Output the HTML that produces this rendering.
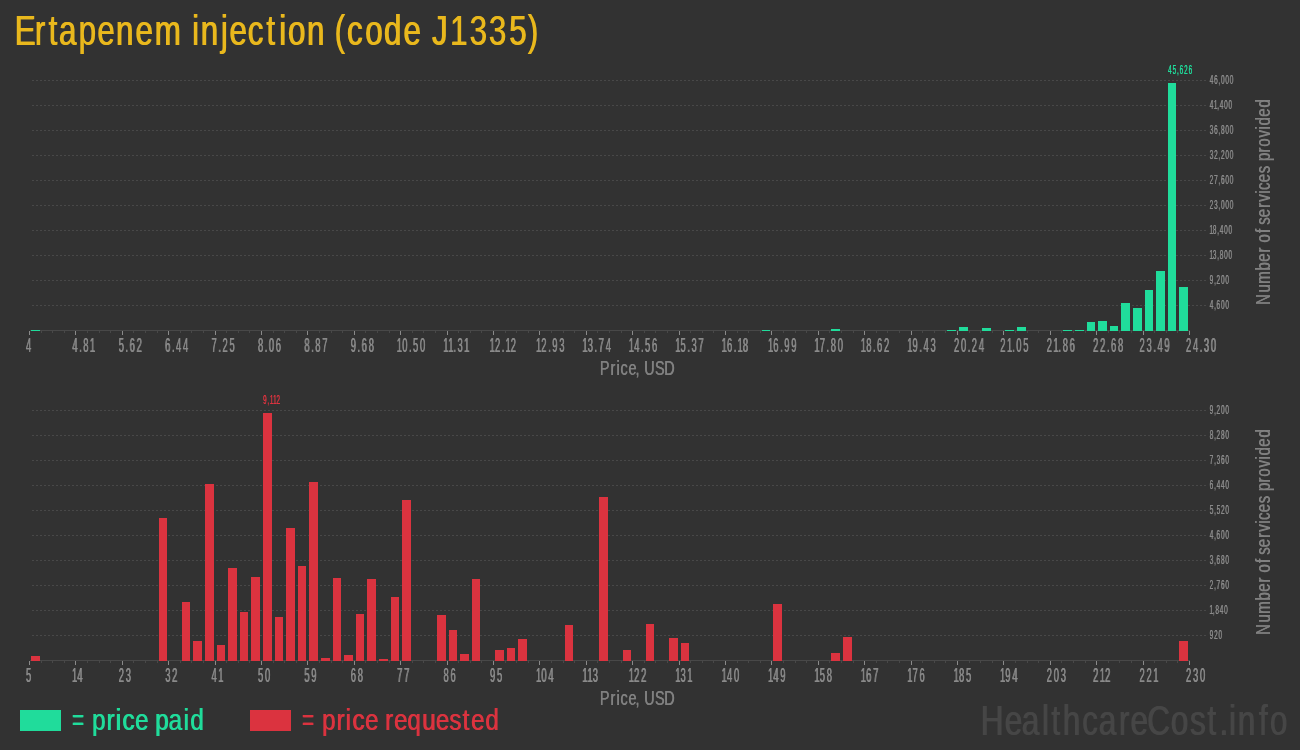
<!DOCTYPE html>
<html lang="en"><head><meta charset="utf-8">
<title>Ertapenem injection (code J1335)</title>
<style>
html,body{margin:0;padding:0;background:#323232;overflow:hidden}
body{width:1300px;height:750px}
svg{display:block}
text{font-family:"Liberation Sans", sans-serif;white-space:pre}
.xl{font-size:20px;text-shadow:0.96px 0 0 currentColor}
.yl{font-size:13.7px;text-shadow:0.64px 0 0 currentColor}
.vl{font-size:13.4px;text-shadow:0.64px 0 0 currentColor}
.title{font-size:41.8px;text-shadow:0.8px 0 0 currentColor}
.ax{font-size:19.9px;text-shadow:0.4px 0 0 currentColor}
.rot{font-size:19.8px;text-shadow:0.4px 0 0 currentColor}
.lg{font-size:30.4px;text-shadow:0.7px 0 0 currentColor}
.wm{font-size:41.6px;text-shadow:0.8px 0 0 currentColor}
</style></head><body>
<svg width="1300" height="750" viewBox="0 0 1300 750">
<rect width="1300" height="750" fill="#323232"/>
<text class="title" fill="#e9b81d" color="#e9b81d" y="45" transform="scale(0.7500,1)" style="text-shadow:1.07px 0 0 currentColor"><tspan x="19.18 45.93 64.19 78.17 104.21 129.24 154.04 180.04 205.83">Ertapenem</tspan> <tspan x="255.58 267.18 293.92 305.44 329.78 354.59 371.71 383.51 408.64">injection</tspan> <tspan x="445.6 462.18 486.38 511.48 537.38">(code</tspan> <tspan x="575.48 599.62 625.57 651.23 678.31 703.25">J1335)</tspan></text>
<g class="chart" transform="translate(0,0)">
<g class="grid" stroke="#484848" stroke-width="1" stroke-dasharray="2 2" shape-rendering="crispEdges">
<line x1="32" y1="80.5" x2="1206" y2="80.5"/>
<line x1="32" y1="105.5" x2="1206" y2="105.5"/>
<line x1="32" y1="130.5" x2="1206" y2="130.5"/>
<line x1="32" y1="155.5" x2="1206" y2="155.5"/>
<line x1="32" y1="180.5" x2="1206" y2="180.5"/>
<line x1="32" y1="205.5" x2="1206" y2="205.5"/>
<line x1="32" y1="230.5" x2="1206" y2="230.5"/>
<line x1="32" y1="255.5" x2="1206" y2="255.5"/>
<line x1="32" y1="280.5" x2="1206" y2="280.5"/>
<line x1="32" y1="305.5" x2="1206" y2="305.5"/>
</g>
<g class="axis" shape-rendering="crispEdges">
<rect x="30" y="330" width="1160" height="1" fill="#484848"/>
<rect x="29" y="331" width="1" height="4" fill="#8a8a8a"/>
<rect x="41" y="331" width="1" height="2" fill="#484848"/>
<rect x="52" y="331" width="1" height="2" fill="#484848"/>
<rect x="64" y="331" width="1" height="2" fill="#484848"/>
<rect x="75" y="331" width="1" height="4" fill="#8a8a8a"/>
<rect x="87" y="331" width="1" height="2" fill="#484848"/>
<rect x="99" y="331" width="1" height="2" fill="#484848"/>
<rect x="110" y="331" width="1" height="2" fill="#484848"/>
<rect x="122" y="331" width="1" height="4" fill="#8a8a8a"/>
<rect x="133" y="331" width="1" height="2" fill="#484848"/>
<rect x="145" y="331" width="1" height="2" fill="#484848"/>
<rect x="157" y="331" width="1" height="2" fill="#484848"/>
<rect x="168" y="331" width="1" height="4" fill="#8a8a8a"/>
<rect x="180" y="331" width="1" height="2" fill="#484848"/>
<rect x="191" y="331" width="1" height="2" fill="#484848"/>
<rect x="203" y="331" width="1" height="2" fill="#484848"/>
<rect x="215" y="331" width="1" height="4" fill="#8a8a8a"/>
<rect x="226" y="331" width="1" height="2" fill="#484848"/>
<rect x="238" y="331" width="1" height="2" fill="#484848"/>
<rect x="249" y="331" width="1" height="2" fill="#484848"/>
<rect x="261" y="331" width="1" height="4" fill="#8a8a8a"/>
<rect x="273" y="331" width="1" height="2" fill="#484848"/>
<rect x="284" y="331" width="1" height="2" fill="#484848"/>
<rect x="296" y="331" width="1" height="2" fill="#484848"/>
<rect x="307" y="331" width="1" height="4" fill="#8a8a8a"/>
<rect x="319" y="331" width="1" height="2" fill="#484848"/>
<rect x="331" y="331" width="1" height="2" fill="#484848"/>
<rect x="342" y="331" width="1" height="2" fill="#484848"/>
<rect x="354" y="331" width="1" height="4" fill="#8a8a8a"/>
<rect x="365" y="331" width="1" height="2" fill="#484848"/>
<rect x="377" y="331" width="1" height="2" fill="#484848"/>
<rect x="389" y="331" width="1" height="2" fill="#484848"/>
<rect x="400" y="331" width="1" height="4" fill="#8a8a8a"/>
<rect x="412" y="331" width="1" height="2" fill="#484848"/>
<rect x="423" y="331" width="1" height="2" fill="#484848"/>
<rect x="435" y="331" width="1" height="2" fill="#484848"/>
<rect x="447" y="331" width="1" height="4" fill="#8a8a8a"/>
<rect x="458" y="331" width="1" height="2" fill="#484848"/>
<rect x="470" y="331" width="1" height="2" fill="#484848"/>
<rect x="481" y="331" width="1" height="2" fill="#484848"/>
<rect x="493" y="331" width="1" height="4" fill="#8a8a8a"/>
<rect x="505" y="331" width="1" height="2" fill="#484848"/>
<rect x="516" y="331" width="1" height="2" fill="#484848"/>
<rect x="528" y="331" width="1" height="2" fill="#484848"/>
<rect x="539" y="331" width="1" height="4" fill="#8a8a8a"/>
<rect x="551" y="331" width="1" height="2" fill="#484848"/>
<rect x="563" y="331" width="1" height="2" fill="#484848"/>
<rect x="574" y="331" width="1" height="2" fill="#484848"/>
<rect x="586" y="331" width="1" height="4" fill="#8a8a8a"/>
<rect x="597" y="331" width="1" height="2" fill="#484848"/>
<rect x="609" y="331" width="1" height="2" fill="#484848"/>
<rect x="621" y="331" width="1" height="2" fill="#484848"/>
<rect x="632" y="331" width="1" height="4" fill="#8a8a8a"/>
<rect x="644" y="331" width="1" height="2" fill="#484848"/>
<rect x="655" y="331" width="1" height="2" fill="#484848"/>
<rect x="667" y="331" width="1" height="2" fill="#484848"/>
<rect x="679" y="331" width="1" height="4" fill="#8a8a8a"/>
<rect x="690" y="331" width="1" height="2" fill="#484848"/>
<rect x="702" y="331" width="1" height="2" fill="#484848"/>
<rect x="713" y="331" width="1" height="2" fill="#484848"/>
<rect x="725" y="331" width="1" height="4" fill="#8a8a8a"/>
<rect x="737" y="331" width="1" height="2" fill="#484848"/>
<rect x="748" y="331" width="1" height="2" fill="#484848"/>
<rect x="760" y="331" width="1" height="2" fill="#484848"/>
<rect x="771" y="331" width="1" height="4" fill="#8a8a8a"/>
<rect x="783" y="331" width="1" height="2" fill="#484848"/>
<rect x="795" y="331" width="1" height="2" fill="#484848"/>
<rect x="806" y="331" width="1" height="2" fill="#484848"/>
<rect x="818" y="331" width="1" height="4" fill="#8a8a8a"/>
<rect x="829" y="331" width="1" height="2" fill="#484848"/>
<rect x="841" y="331" width="1" height="2" fill="#484848"/>
<rect x="853" y="331" width="1" height="2" fill="#484848"/>
<rect x="864" y="331" width="1" height="4" fill="#8a8a8a"/>
<rect x="876" y="331" width="1" height="2" fill="#484848"/>
<rect x="887" y="331" width="1" height="2" fill="#484848"/>
<rect x="899" y="331" width="1" height="2" fill="#484848"/>
<rect x="911" y="331" width="1" height="4" fill="#8a8a8a"/>
<rect x="922" y="331" width="1" height="2" fill="#484848"/>
<rect x="934" y="331" width="1" height="2" fill="#484848"/>
<rect x="945" y="331" width="1" height="2" fill="#484848"/>
<rect x="957" y="331" width="1" height="4" fill="#8a8a8a"/>
<rect x="969" y="331" width="1" height="2" fill="#484848"/>
<rect x="980" y="331" width="1" height="2" fill="#484848"/>
<rect x="992" y="331" width="1" height="2" fill="#484848"/>
<rect x="1003" y="331" width="1" height="4" fill="#8a8a8a"/>
<rect x="1015" y="331" width="1" height="2" fill="#484848"/>
<rect x="1027" y="331" width="1" height="2" fill="#484848"/>
<rect x="1038" y="331" width="1" height="2" fill="#484848"/>
<rect x="1050" y="331" width="1" height="4" fill="#8a8a8a"/>
<rect x="1061" y="331" width="1" height="2" fill="#484848"/>
<rect x="1073" y="331" width="1" height="2" fill="#484848"/>
<rect x="1085" y="331" width="1" height="2" fill="#484848"/>
<rect x="1096" y="331" width="1" height="4" fill="#8a8a8a"/>
<rect x="1108" y="331" width="1" height="2" fill="#484848"/>
<rect x="1119" y="331" width="1" height="2" fill="#484848"/>
<rect x="1131" y="331" width="1" height="2" fill="#484848"/>
<rect x="1143" y="331" width="1" height="4" fill="#8a8a8a"/>
<rect x="1154" y="331" width="1" height="2" fill="#484848"/>
<rect x="1166" y="331" width="1" height="2" fill="#484848"/>
<rect x="1177" y="331" width="1" height="2" fill="#484848"/>
<rect x="1189" y="331" width="1" height="4" fill="#8a8a8a"/>
</g>
<g class="bars" fill="#20dc9b" shape-rendering="crispEdges">
<rect x="31" y="330" width="9" height="1"/>
<rect x="762" y="330" width="8" height="1"/>
<rect x="831" y="329" width="9" height="2"/>
<rect x="947" y="330" width="9" height="1"/>
<rect x="959" y="327" width="9" height="4"/>
<rect x="982" y="328" width="9" height="3"/>
<rect x="1005" y="330" width="9" height="1"/>
<rect x="1017" y="327" width="9" height="4"/>
<rect x="1063" y="330" width="9" height="1"/>
<rect x="1075" y="330" width="9" height="1"/>
<rect x="1087" y="322" width="8" height="9"/>
<rect x="1098" y="321" width="9" height="10"/>
<rect x="1110" y="326" width="8" height="5"/>
<rect x="1121" y="303" width="9" height="28"/>
<rect x="1133" y="308" width="9" height="23"/>
<rect x="1145" y="290" width="8" height="41"/>
<rect x="1156" y="271" width="9" height="60"/>
<rect x="1168" y="83" width="8" height="248"/>
<rect x="1179" y="287" width="9" height="44"/>
</g>
<g class="xlabels" fill="#8a8a8a" color="#8a8a8a">
<text class="xl" x="1.26" transform="translate(25.1,352) scale(0.47,1)">4</text>
<text class="xl" x="1.26 15.71 24.45 38.54" transform="translate(71.5,352) scale(0.47,1)">4.81</text>
<text class="xl" x="1.26 15.71 24.32 39.22" transform="translate(117.9,352) scale(0.47,1)">5.62</text>
<text class="xl" x="1.13 15.71 24.45 39.34" transform="translate(164.3,352) scale(0.47,1)">6.44</text>
<text class="xl" x="1.13 15.71 24.32 39.34" transform="translate(210.7,352) scale(0.47,1)">7.25</text>
<text class="xl" x="1.26 15.71 24.45 39.22" transform="translate(257.1,352) scale(0.47,1)">8.06</text>
<text class="xl" x="1.26 15.71 24.45 39.22" transform="translate(303.5,352) scale(0.47,1)">8.87</text>
<text class="xl" x="1.13 15.71 24.32 39.34" transform="translate(349.9,352) scale(0.47,1)">9.68</text>
<text class="xl" x="0.45 11.89 26.35 35.09 49.98" transform="translate(396.3,352) scale(0.47,1)">10.50</text>
<text class="xl" x="0.45 11.09 22.09 30.83 44.92" transform="translate(442.7,352) scale(0.47,1)">11.31</text>
<text class="xl" x="0.45 11.77 26.35 34.28 45.6" transform="translate(489.1,352) scale(0.47,1)">12.12</text>
<text class="xl" x="0.45 11.77 26.35 34.96 49.98" transform="translate(535.5,352) scale(0.47,1)">12.93</text>
<text class="xl" x="0.45 11.89 26.35 34.96 49.98" transform="translate(581.9,352) scale(0.47,1)">13.74</text>
<text class="xl" x="0.45 11.89 26.35 35.09 49.85" transform="translate(628.3,352) scale(0.47,1)">14.56</text>
<text class="xl" x="0.45 11.89 26.35 35.09 49.85" transform="translate(674.7,352) scale(0.47,1)">15.37</text>
<text class="xl" x="0.45 11.77 26.35 34.28 45.72" transform="translate(721.1,352) scale(0.47,1)">16.18</text>
<text class="xl" x="0.45 11.77 26.35 34.96 49.85" transform="translate(767.5,352) scale(0.47,1)">16.99</text>
<text class="xl" x="0.45 11.77 26.35 35.09 49.98" transform="translate(813.9,352) scale(0.47,1)">17.80</text>
<text class="xl" x="0.45 11.89 26.35 34.96 49.85" transform="translate(860.3,352) scale(0.47,1)">18.62</text>
<text class="xl" x="0.45 11.77 26.35 35.09 49.98" transform="translate(906.7,352) scale(0.47,1)">19.43</text>
<text class="xl" x="1.13 16.15 30.6 39.22 54.23" transform="translate(953.1,352) scale(0.47,1)">20.24</text>
<text class="xl" x="1.13 15.35 26.35 35.09 49.98" transform="translate(999.5,352) scale(0.47,1)">21.05</text>
<text class="xl" x="1.13 15.35 26.35 35.09 49.85" transform="translate(1045.9,352) scale(0.47,1)">21.86</text>
<text class="xl" x="1.13 16.02 30.6 39.22 54.23" transform="translate(1092.3,352) scale(0.47,1)">22.68</text>
<text class="xl" x="1.13 16.15 30.6 39.34 54.11" transform="translate(1138.7,352) scale(0.47,1)">23.49</text>
<text class="xl" x="1.13 16.15 30.6 39.34 54.23" transform="translate(1185.1,352) scale(0.47,1)">24.30</text>
</g>
<g class="ylabels" fill="#8a8a8a" color="#8a8a8a">
<text class="yl" x="0.49 9.75 19.12 24.48 33.86 43.25" transform="translate(1209.3,84.4) scale(0.47,1)">46,000</text>
<text class="yl" x="0.49 9.35 16.44 21.8 31.18 40.57" transform="translate(1209.3,109.4) scale(0.47,1)">41,400</text>
<text class="yl" x="0.49 9.75 19.12 24.48 33.86 43.25" transform="translate(1209.3,134.4) scale(0.47,1)">36,800</text>
<text class="yl" x="0.49 9.75 19.12 24.36 33.86 43.25" transform="translate(1209.3,159.4) scale(0.47,1)">32,200</text>
<text class="yl" x="0.36 9.75 19.12 24.36 33.86 43.25" transform="translate(1209.3,184.4) scale(0.47,1)">27,600</text>
<text class="yl" x="0.36 9.87 19.12 24.48 33.86 43.25" transform="translate(1209.3,209.4) scale(0.47,1)">23,000</text>
<text class="yl" x="-0.03 7.19 16.44 21.8 31.18 40.57" transform="translate(1209.3,234.4) scale(0.47,1)">18,400</text>
<text class="yl" x="-0.03 7.19 16.44 21.8 31.18 40.57" transform="translate(1209.3,259.4) scale(0.47,1)">13,800</text>
<text class="yl" x="0.36 9.74 14.97 24.48 33.86" transform="translate(1209.3,284.4) scale(0.47,1)">9,200</text>
<text class="yl" x="0.49 9.74 14.97 24.48 33.86" transform="translate(1209.3,309.4) scale(0.47,1)">4,600</text>
</g>
<text class="vl" fill="#20dc9b" color="#20dc9b" x="0.72 10.2 19.63 25.16 34.77 44.37" transform="translate(1167.6,74.4) scale(0.47,1)">45,626</text>
<text class="ax" fill="#808080" color="#808080" y="375" transform="scale(0.7233,1)" style="text-shadow:0.55px 0 0 currentColor"><tspan x="829.07 843.67 851.93 857.71 868.74 878.33">Price,</tspan> <tspan x="890.27 905.29 918.03">USD</tspan></text>
<text class="rot" fill="#808080" color="#808080" y="0" transform="translate(1270.1,304.3) rotate(-90) scale(0.7540,1)" style="text-shadow:0.53px 0 0 currentColor"><tspan x="-1.09 15.32 26.89 44.45 56.03 68.33">Number</tspan> <tspan x="81.56 94.4">of</tspan> <tspan x="105.26 115.18 127.81 135.77 146.47 151.36 161.53 173.43">services</tspan> <tspan x="189.86 200.95 208.81 220.84 231.61 236.98 248.33 260.78">provided</tspan></text>
</g>
<g class="chart" transform="translate(0,330)">
<g class="grid" stroke="#484848" stroke-width="1" stroke-dasharray="2 2" shape-rendering="crispEdges">
<line x1="32" y1="80.5" x2="1206" y2="80.5"/>
<line x1="32" y1="105.5" x2="1206" y2="105.5"/>
<line x1="32" y1="130.5" x2="1206" y2="130.5"/>
<line x1="32" y1="155.5" x2="1206" y2="155.5"/>
<line x1="32" y1="180.5" x2="1206" y2="180.5"/>
<line x1="32" y1="205.5" x2="1206" y2="205.5"/>
<line x1="32" y1="230.5" x2="1206" y2="230.5"/>
<line x1="32" y1="255.5" x2="1206" y2="255.5"/>
<line x1="32" y1="280.5" x2="1206" y2="280.5"/>
<line x1="32" y1="305.5" x2="1206" y2="305.5"/>
</g>
<g class="axis" shape-rendering="crispEdges">
<rect x="30" y="330" width="1160" height="1" fill="#484848"/>
<rect x="29" y="331" width="1" height="4" fill="#8a8a8a"/>
<rect x="41" y="331" width="1" height="2" fill="#484848"/>
<rect x="52" y="331" width="1" height="2" fill="#484848"/>
<rect x="64" y="331" width="1" height="2" fill="#484848"/>
<rect x="75" y="331" width="1" height="4" fill="#8a8a8a"/>
<rect x="87" y="331" width="1" height="2" fill="#484848"/>
<rect x="99" y="331" width="1" height="2" fill="#484848"/>
<rect x="110" y="331" width="1" height="2" fill="#484848"/>
<rect x="122" y="331" width="1" height="4" fill="#8a8a8a"/>
<rect x="133" y="331" width="1" height="2" fill="#484848"/>
<rect x="145" y="331" width="1" height="2" fill="#484848"/>
<rect x="157" y="331" width="1" height="2" fill="#484848"/>
<rect x="168" y="331" width="1" height="4" fill="#8a8a8a"/>
<rect x="180" y="331" width="1" height="2" fill="#484848"/>
<rect x="191" y="331" width="1" height="2" fill="#484848"/>
<rect x="203" y="331" width="1" height="2" fill="#484848"/>
<rect x="215" y="331" width="1" height="4" fill="#8a8a8a"/>
<rect x="226" y="331" width="1" height="2" fill="#484848"/>
<rect x="238" y="331" width="1" height="2" fill="#484848"/>
<rect x="249" y="331" width="1" height="2" fill="#484848"/>
<rect x="261" y="331" width="1" height="4" fill="#8a8a8a"/>
<rect x="273" y="331" width="1" height="2" fill="#484848"/>
<rect x="284" y="331" width="1" height="2" fill="#484848"/>
<rect x="296" y="331" width="1" height="2" fill="#484848"/>
<rect x="307" y="331" width="1" height="4" fill="#8a8a8a"/>
<rect x="319" y="331" width="1" height="2" fill="#484848"/>
<rect x="331" y="331" width="1" height="2" fill="#484848"/>
<rect x="342" y="331" width="1" height="2" fill="#484848"/>
<rect x="354" y="331" width="1" height="4" fill="#8a8a8a"/>
<rect x="365" y="331" width="1" height="2" fill="#484848"/>
<rect x="377" y="331" width="1" height="2" fill="#484848"/>
<rect x="389" y="331" width="1" height="2" fill="#484848"/>
<rect x="400" y="331" width="1" height="4" fill="#8a8a8a"/>
<rect x="412" y="331" width="1" height="2" fill="#484848"/>
<rect x="423" y="331" width="1" height="2" fill="#484848"/>
<rect x="435" y="331" width="1" height="2" fill="#484848"/>
<rect x="447" y="331" width="1" height="4" fill="#8a8a8a"/>
<rect x="458" y="331" width="1" height="2" fill="#484848"/>
<rect x="470" y="331" width="1" height="2" fill="#484848"/>
<rect x="481" y="331" width="1" height="2" fill="#484848"/>
<rect x="493" y="331" width="1" height="4" fill="#8a8a8a"/>
<rect x="505" y="331" width="1" height="2" fill="#484848"/>
<rect x="516" y="331" width="1" height="2" fill="#484848"/>
<rect x="528" y="331" width="1" height="2" fill="#484848"/>
<rect x="539" y="331" width="1" height="4" fill="#8a8a8a"/>
<rect x="551" y="331" width="1" height="2" fill="#484848"/>
<rect x="563" y="331" width="1" height="2" fill="#484848"/>
<rect x="574" y="331" width="1" height="2" fill="#484848"/>
<rect x="586" y="331" width="1" height="4" fill="#8a8a8a"/>
<rect x="597" y="331" width="1" height="2" fill="#484848"/>
<rect x="609" y="331" width="1" height="2" fill="#484848"/>
<rect x="621" y="331" width="1" height="2" fill="#484848"/>
<rect x="632" y="331" width="1" height="4" fill="#8a8a8a"/>
<rect x="644" y="331" width="1" height="2" fill="#484848"/>
<rect x="655" y="331" width="1" height="2" fill="#484848"/>
<rect x="667" y="331" width="1" height="2" fill="#484848"/>
<rect x="679" y="331" width="1" height="4" fill="#8a8a8a"/>
<rect x="690" y="331" width="1" height="2" fill="#484848"/>
<rect x="702" y="331" width="1" height="2" fill="#484848"/>
<rect x="713" y="331" width="1" height="2" fill="#484848"/>
<rect x="725" y="331" width="1" height="4" fill="#8a8a8a"/>
<rect x="737" y="331" width="1" height="2" fill="#484848"/>
<rect x="748" y="331" width="1" height="2" fill="#484848"/>
<rect x="760" y="331" width="1" height="2" fill="#484848"/>
<rect x="771" y="331" width="1" height="4" fill="#8a8a8a"/>
<rect x="783" y="331" width="1" height="2" fill="#484848"/>
<rect x="795" y="331" width="1" height="2" fill="#484848"/>
<rect x="806" y="331" width="1" height="2" fill="#484848"/>
<rect x="818" y="331" width="1" height="4" fill="#8a8a8a"/>
<rect x="829" y="331" width="1" height="2" fill="#484848"/>
<rect x="841" y="331" width="1" height="2" fill="#484848"/>
<rect x="853" y="331" width="1" height="2" fill="#484848"/>
<rect x="864" y="331" width="1" height="4" fill="#8a8a8a"/>
<rect x="876" y="331" width="1" height="2" fill="#484848"/>
<rect x="887" y="331" width="1" height="2" fill="#484848"/>
<rect x="899" y="331" width="1" height="2" fill="#484848"/>
<rect x="911" y="331" width="1" height="4" fill="#8a8a8a"/>
<rect x="922" y="331" width="1" height="2" fill="#484848"/>
<rect x="934" y="331" width="1" height="2" fill="#484848"/>
<rect x="945" y="331" width="1" height="2" fill="#484848"/>
<rect x="957" y="331" width="1" height="4" fill="#8a8a8a"/>
<rect x="969" y="331" width="1" height="2" fill="#484848"/>
<rect x="980" y="331" width="1" height="2" fill="#484848"/>
<rect x="992" y="331" width="1" height="2" fill="#484848"/>
<rect x="1003" y="331" width="1" height="4" fill="#8a8a8a"/>
<rect x="1015" y="331" width="1" height="2" fill="#484848"/>
<rect x="1027" y="331" width="1" height="2" fill="#484848"/>
<rect x="1038" y="331" width="1" height="2" fill="#484848"/>
<rect x="1050" y="331" width="1" height="4" fill="#8a8a8a"/>
<rect x="1061" y="331" width="1" height="2" fill="#484848"/>
<rect x="1073" y="331" width="1" height="2" fill="#484848"/>
<rect x="1085" y="331" width="1" height="2" fill="#484848"/>
<rect x="1096" y="331" width="1" height="4" fill="#8a8a8a"/>
<rect x="1108" y="331" width="1" height="2" fill="#484848"/>
<rect x="1119" y="331" width="1" height="2" fill="#484848"/>
<rect x="1131" y="331" width="1" height="2" fill="#484848"/>
<rect x="1143" y="331" width="1" height="4" fill="#8a8a8a"/>
<rect x="1154" y="331" width="1" height="2" fill="#484848"/>
<rect x="1166" y="331" width="1" height="2" fill="#484848"/>
<rect x="1177" y="331" width="1" height="2" fill="#484848"/>
<rect x="1189" y="331" width="1" height="4" fill="#8a8a8a"/>
</g>
<g class="bars" fill="#db333f" shape-rendering="crispEdges">
<rect x="31" y="326" width="9" height="5"/>
<rect x="159" y="188" width="8" height="143"/>
<rect x="182" y="272" width="8" height="59"/>
<rect x="193" y="311" width="9" height="20"/>
<rect x="205" y="154" width="9" height="177"/>
<rect x="217" y="315" width="8" height="16"/>
<rect x="228" y="238" width="9" height="93"/>
<rect x="240" y="282" width="8" height="49"/>
<rect x="251" y="247" width="9" height="84"/>
<rect x="263" y="83" width="9" height="248"/>
<rect x="275" y="287" width="8" height="44"/>
<rect x="286" y="198" width="9" height="133"/>
<rect x="298" y="236" width="8" height="95"/>
<rect x="309" y="152" width="9" height="179"/>
<rect x="321" y="328" width="9" height="3"/>
<rect x="333" y="248" width="8" height="83"/>
<rect x="344" y="325" width="9" height="6"/>
<rect x="356" y="284" width="8" height="47"/>
<rect x="367" y="249" width="9" height="82"/>
<rect x="379" y="329" width="9" height="2"/>
<rect x="391" y="267" width="8" height="64"/>
<rect x="402" y="170" width="9" height="161"/>
<rect x="437" y="285" width="9" height="46"/>
<rect x="449" y="300" width="8" height="31"/>
<rect x="460" y="324" width="9" height="7"/>
<rect x="472" y="249" width="8" height="82"/>
<rect x="495" y="320" width="9" height="11"/>
<rect x="507" y="318" width="8" height="13"/>
<rect x="518" y="309" width="9" height="22"/>
<rect x="565" y="295" width="8" height="36"/>
<rect x="599" y="167" width="9" height="164"/>
<rect x="623" y="320" width="8" height="11"/>
<rect x="646" y="294" width="8" height="37"/>
<rect x="669" y="308" width="9" height="23"/>
<rect x="681" y="313" width="8" height="18"/>
<rect x="773" y="274" width="9" height="57"/>
<rect x="831" y="323" width="9" height="8"/>
<rect x="843" y="307" width="9" height="24"/>
<rect x="1179" y="311" width="9" height="20"/>
</g>
<g class="xlabels" fill="#8a8a8a" color="#8a8a8a">
<text class="xl" x="1.26" transform="translate(25.1,352) scale(0.47,1)">5</text>
<text class="xl" x="0.45 11.89" transform="translate(71.5,352) scale(0.47,1)">14</text>
<text class="xl" x="1.13 16.15" transform="translate(117.9,352) scale(0.47,1)">23</text>
<text class="xl" x="1.26 16.02" transform="translate(164.3,352) scale(0.47,1)">32</text>
<text class="xl" x="1.26 15.35" transform="translate(210.7,352) scale(0.47,1)">41</text>
<text class="xl" x="1.26 16.15" transform="translate(257.1,352) scale(0.47,1)">50</text>
<text class="xl" x="1.26 16.02" transform="translate(303.5,352) scale(0.47,1)">59</text>
<text class="xl" x="1.13 16.15" transform="translate(349.9,352) scale(0.47,1)">68</text>
<text class="xl" x="1.13 16.02" transform="translate(396.3,352) scale(0.47,1)">77</text>
<text class="xl" x="1.26 16.02" transform="translate(442.7,352) scale(0.47,1)">86</text>
<text class="xl" x="1.13 16.15" transform="translate(489.1,352) scale(0.47,1)">95</text>
<text class="xl" x="0.45 11.89 26.79" transform="translate(535.5,352) scale(0.47,1)">104</text>
<text class="xl" x="0.45 11.09 22.53" transform="translate(581.9,352) scale(0.47,1)">113</text>
<text class="xl" x="0.45 11.77 26.66" transform="translate(628.3,352) scale(0.47,1)">122</text>
<text class="xl" x="0.45 11.89 25.99" transform="translate(674.7,352) scale(0.47,1)">131</text>
<text class="xl" x="0.45 11.89 26.79" transform="translate(721.1,352) scale(0.47,1)">140</text>
<text class="xl" x="0.45 11.89 26.66" transform="translate(767.5,352) scale(0.47,1)">149</text>
<text class="xl" x="0.45 11.89 26.79" transform="translate(813.9,352) scale(0.47,1)">158</text>
<text class="xl" x="0.45 11.77 26.66" transform="translate(860.3,352) scale(0.47,1)">167</text>
<text class="xl" x="0.45 11.77 26.66" transform="translate(906.7,352) scale(0.47,1)">176</text>
<text class="xl" x="0.45 11.89 26.79" transform="translate(953.1,352) scale(0.47,1)">185</text>
<text class="xl" x="0.45 11.77 26.79" transform="translate(999.5,352) scale(0.47,1)">194</text>
<text class="xl" x="1.13 16.15 31.04" transform="translate(1045.9,352) scale(0.47,1)">203</text>
<text class="xl" x="1.13 15.35 26.66" transform="translate(1092.3,352) scale(0.47,1)">212</text>
<text class="xl" x="1.13 16.02 30.24" transform="translate(1138.7,352) scale(0.47,1)">221</text>
<text class="xl" x="1.13 16.15 31.04" transform="translate(1185.1,352) scale(0.47,1)">230</text>
</g>
<g class="ylabels" fill="#8a8a8a" color="#8a8a8a">
<text class="yl" x="0.36 9.74 14.97 24.48 33.86" transform="translate(1209.3,84.4) scale(0.47,1)">9,200</text>
<text class="yl" x="0.49 9.74 14.97 24.48 33.86" transform="translate(1209.3,109.4) scale(0.47,1)">8,280</text>
<text class="yl" x="0.36 9.74 15.1 24.36 33.86" transform="translate(1209.3,134.4) scale(0.47,1)">7,360</text>
<text class="yl" x="0.36 9.74 15.1 24.48 33.86" transform="translate(1209.3,159.4) scale(0.47,1)">6,440</text>
<text class="yl" x="0.49 9.74 15.1 24.36 33.86" transform="translate(1209.3,184.4) scale(0.47,1)">5,520</text>
<text class="yl" x="0.49 9.74 14.97 24.48 33.86" transform="translate(1209.3,209.4) scale(0.47,1)">4,600</text>
<text class="yl" x="0.49 9.74 14.97 24.48 33.86" transform="translate(1209.3,234.4) scale(0.47,1)">3,680</text>
<text class="yl" x="0.36 9.74 14.97 24.36 33.86" transform="translate(1209.3,259.4) scale(0.47,1)">2,760</text>
<text class="yl" x="-0.03 7.05 12.42 21.8 31.18" transform="translate(1209.3,284.4) scale(0.47,1)">1,840</text>
<text class="yl" x="0.36 9.75 19.25" transform="translate(1209.3,309.4) scale(0.47,1)">920</text>
</g>
<text class="vl" fill="#db333f" color="#db333f" x="0.72 10.02 15.16 22.02 29.28" transform="translate(262.6,74.4) scale(0.47,1)">9,112</text>
<text class="ax" fill="#808080" color="#808080" y="375" transform="scale(0.7233,1)" style="text-shadow:0.55px 0 0 currentColor"><tspan x="829.07 843.67 851.93 857.71 868.74 878.33">Price,</tspan> <tspan x="890.27 905.29 918.03">USD</tspan></text>
<text class="rot" fill="#808080" color="#808080" y="0" transform="translate(1270.1,304.3) rotate(-90) scale(0.7540,1)" style="text-shadow:0.53px 0 0 currentColor"><tspan x="-1.09 15.32 26.89 44.45 56.03 68.33">Number</tspan> <tspan x="81.56 94.4">of</tspan> <tspan x="105.26 115.18 127.81 135.77 146.47 151.36 161.53 173.43">services</tspan> <tspan x="189.86 200.95 208.81 220.84 231.61 236.98 248.33 260.78">provided</tspan></text>
</g>
<g class="legend">
<rect x="20" y="710" width="41" height="21" fill="#20dc9b" shape-rendering="crispEdges"/>
<text class="lg" fill="#20dc9b" color="#20dc9b" y="729.85" transform="scale(0.7953,1)" style="text-shadow:0.88px 0 0 currentColor"><tspan x="90.27" textLength="14.98" lengthAdjust="spacingAndGlyphs">=</tspan> <tspan x="115.47 133.69 145.05 153.56 169.41">price</tspan> <tspan x="194.75 211.47 230.55 239">paid</tspan></text>
<rect x="250" y="710" width="41" height="21" fill="#db333f" shape-rendering="crispEdges"/>
<text class="lg" fill="#db333f" color="#db333f" y="729.85" transform="scale(0.7953,1)" style="text-shadow:0.88px 0 0 currentColor"><tspan x="379.45" textLength="14.98" lengthAdjust="spacingAndGlyphs">=</tspan> <tspan x="404.66 422.87 434.23 442.75 458.59">price</tspan> <tspan x="483.91 494.99 511.84 530.45 547.67 564.64 581.22 591.81 609.85">requested</tspan></text>
</g>
<text class="wm" fill="#464646" color="#464646" y="735" transform="scale(0.7593,1)" style="text-shadow:1.05px 0 0 currentColor"><tspan x="1291.15 1322.76 1345.01 1371.78 1384.1 1399.02 1424.52 1446.48 1473.04 1488.3 1510.43 1541.32 1566.73 1589.54 1605.47 1617.98 1629.49 1657.31 1671.83">HealthcareCost.info</tspan></text>
</svg></body></html>
